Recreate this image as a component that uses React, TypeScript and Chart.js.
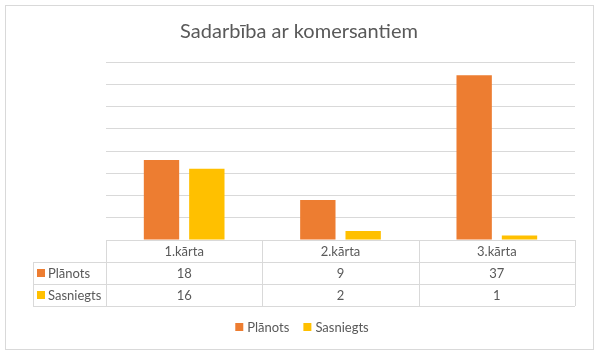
import React, { useEffect, useRef } from "react";
import { Chart, registerables } from "chart.js";

Chart.register(...registerables);

const categories = ["1.kārta", "2.kārta", "3.kārta"];
const planotsValues = [18, 9, 37];
const sasniegtsValues = [16, 2, 1];
const seriesNames = ["Plānots", "Sasniegts"];
const titleText = "Sadarbība ar komersantiem";

const ORANGE = "#ED7D31";
const YELLOW = "#FFC000";
const TEXT = "#595959";
const GRID = "#D9D9D9";
const FONT = "Lato, 'Liberation Sans', sans-serif";

const tablePlugin = {
  id: "tablePlugin",
  afterDraw(chart: any) {
    const ctx = chart.ctx as CanvasRenderingContext2D;
    const area = chart.chartArea;
    const W = chart.width;
    const H = chart.height;
    ctx.save();
    // outer border
    ctx.strokeStyle = GRID;
    ctx.lineWidth = 1;
    ctx.strokeRect(5.5, 5.5, W - 12, H - 11);

    // title
    ctx.fillStyle = TEXT;
    ctx.font = `20px ${FONT}`;
    ctx.textAlign = "center";
    ctx.textBaseline = "middle";
    ctx.fillText(titleText, 299, 32);

    // table
    const left = area.left;
    const right = area.right;
    const top = area.bottom;
    const rowH = 22;
    const labelLeft = 33;
    const n = categories.length;
    const cw = (right - left) / n;
    ctx.strokeStyle = GRID;
    ctx.beginPath();
    const hl = (y: number, x0: number, x1: number) => {
      ctx.moveTo(x0, Math.round(y) + 0.5);
      ctx.lineTo(x1, Math.round(y) + 0.5);
    };
    const vl = (x: number, y0: number, y1: number) => {
      ctx.moveTo(Math.round(x) + 0.5, y0);
      ctx.lineTo(Math.round(x) + 0.5, y1);
    };
    hl(top, left, right);
    hl(top + rowH, labelLeft, right);
    hl(top + 2 * rowH, labelLeft, right);
    hl(top + 3 * rowH, labelLeft, right);
    vl(labelLeft, top + rowH, top + 3 * rowH);
    for (let i = 0; i <= n; i++) vl(left + i * cw, top, top + 3 * rowH);
    ctx.stroke();

    ctx.font = `13px ${FONT}`;
    ctx.fillStyle = TEXT;
    ctx.textAlign = "center";
    const rows = [planotsValues, sasniegtsValues];
    const colors = [ORANGE, YELLOW];
    for (let i = 0; i < n; i++) {
      const cx = left + (i + 0.5) * cw;
      ctx.fillText(categories[i], cx, top + rowH / 2 + 1);
      rows.forEach((r, j) => {
        ctx.fillText(String(r[i]), cx, top + (j + 1.5) * rowH + 1);
      });
    }
    ctx.textAlign = "left";
    rows.forEach((_, j) => {
      const cy = top + (j + 1.5) * rowH;
      ctx.fillStyle = colors[j];
      ctx.fillRect(37, cy - 4, 8, 8);
      ctx.fillStyle = TEXT;
      ctx.fillText(seriesNames[j], 48, cy + 1);
    });

    // legend
    const ly = 327;
    ctx.font = `13px ${FONT}`;
    const w0 = ctx.measureText(seriesNames[0]).width;
    const w1 = ctx.measureText(seriesNames[1]).width;
    const total = 8 + 4 + w0 + 14 + 8 + 4 + w1;
    let x = 302 - total / 2;
    ctx.fillStyle = ORANGE;
    ctx.fillRect(x, ly - 4, 8, 8);
    x += 12;
    ctx.fillStyle = TEXT;
    ctx.fillText(seriesNames[0], x, ly + 1);
    x += w0 + 14;
    ctx.fillStyle = YELLOW;
    ctx.fillRect(x, ly - 4, 8, 8);
    x += 12;
    ctx.fillStyle = TEXT;
    ctx.fillText(seriesNames[1], x, ly + 1);
    ctx.restore();
  },
};

export default function App() {
  const ref = useRef<HTMLCanvasElement>(null);
  useEffect(() => {
    if (!ref.current) return;
    const chart = new Chart(ref.current, {
      type: "bar",
      data: {
        labels: categories,
        datasets: [
          {
            label: seriesNames[0],
            data: planotsValues,
            backgroundColor: ORANGE,
            categoryPercentage: 0.58,
            barPercentage: 0.78,
          },
          {
            label: seriesNames[1],
            data: sasniegtsValues,
            backgroundColor: YELLOW,
            categoryPercentage: 0.58,
            barPercentage: 0.78,
          },
        ],
      },
      options: {
        animation: false,
        responsive: false,
        maintainAspectRatio: false,
        layout: { padding: { left: 106, right: 25, top: 62, bottom: 115 } },
        plugins: {
          legend: { display: false },
          title: { display: false },
          tooltip: { enabled: false },
        },
        scales: {
          x: { display: false },
          y: {
            min: 0,
            max: 40,
            ticks: { stepSize: 5, display: false },
            grid: { color: GRID, drawTicks: false, lineWidth: 1 },
            border: { display: false },
          },
        },
      },
      plugins: [tablePlugin],
    });
    return () => chart.destroy();
  }, []);
  return (
    <div style={{ position: "absolute", left: 0, top: 0, width: 600, height: 355, background: "#fff" }}>
      <canvas ref={ref} width={600} height={355} style={{ display: "block", width: 600, height: 355 }} />
    </div>
  );
}
